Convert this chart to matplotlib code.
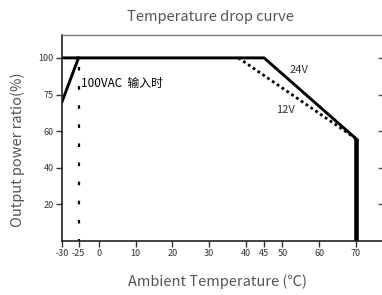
import matplotlib
matplotlib.use("Agg")
import matplotlib.pyplot as plt
import numpy as np

# derating curves (temperature in C, output in %)
v24_temp = [-30, 45, 70]
v24_load = [100, 100, 56]
v12_temp = [38, 70]
v12_load = [100, 56]
cutoff_temp = [70, 70]
cutoff_load = [56, 0]
ramp_temp = [-30, -25]
ramp_load = [76, 100]
vac_temp = [-25, -25]
vac_load = [95, 0]

xticks = [-30, -25, 0, 10, 20, 30, 40, 45, 50, 60, 70]
yticks = [20, 40, 60, 80, 100]
ylabels = ["20", "40", "60", "75", "100"]

fonts = ['Liberation Sans Narrow', 'Noto Sans CJK SC', 'DejaVu Sans']
plt.rcParams['font.family'] = fonts

# the negative part of the temperature axis is squeezed in the original
kx = [-30, -25, 0, 200]
kf = [-10.1, -5.6, 0, 200]
def fwd(x):
	return np.interp(x, kx, kf)
def inv(x):
	return np.interp(x, kf, kx)

fig = plt.figure(figsize=(3.82, 2.95), dpi=100)
ax = fig.add_axes([62/382, 1-241/295, 322/382, 206/295])
ax.set_xscale('function', functions=(fwd, inv))

ax.plot(v24_temp, v24_load, color='black', lw=2.1, solid_joinstyle='miter')
ax.plot(cutoff_temp, cutoff_load, color='black', lw=3.3, solid_capstyle='butt')
ax.plot(v12_temp, v12_load, color='black', lw=2.0, linestyle=(0, (1, 1.1)))
ax.plot(ramp_temp, ramp_load, color='black', lw=2.1)
ax.plot(vac_temp, vac_load, color='black', lw=1.6, linestyle=(0, (1.6, 7)))

ax.text(54.5, 93.4, "24V", fontsize=8, color='#333333', ha='center', va='center')
ax.text(50.7, 71.6, "12V", fontsize=8, color='#333333', ha='center', va='center')
ax.text(-21.6, 86.3, "100VAC  输入时", fontsize=8.5, color='black', ha='left', va='center')

ax.set_xlim(-30, 77.7)
ax.set_ylim(0, 112.5)
ax.set_xticks(xticks)
ax.set_xticklabels([str(t) for t in xticks])
ax.set_yticks(yticks)
ax.set_yticklabels(ylabels)
ax.tick_params(labelsize=6.5, labelcolor='#333333', color='#333333', length=4, width=1, pad=2)

ax.spines['right'].set_visible(False)
ax.spines['left'].set_color('#222222')
ax.spines['bottom'].set_color('#222222')
ax.spines['left'].set_linewidth(1.2)
ax.spines['bottom'].set_linewidth(1.2)
ax.spines['top'].set_color('#777777')
ax.spines['top'].set_linewidth(1.0)

# inward ticks on the (cropped) right side
sec = ax.secondary_yaxis('right')
sec.set_yticks(yticks)
sec.set_yticklabels([])
sec.tick_params(direction='in', length=4, color='#555555', width=1)
sec.spines['right'].set_visible(False)

fig.text(210/382, 1-17/295, "Temperature drop curve", fontsize=10.5, color='#555555', ha='center', va='center')
fig.text(18/382, 1-150/295, "Output power ratio(%)", fontsize=10.5, color='#555555', ha='center', va='center', rotation=90)
fig.text(217/382, 1-282/295, "Ambient Temperature (℃)", fontsize=10.5, color='#555555', ha='center', va='center')

plt.savefig('out.png', dpi=100)
